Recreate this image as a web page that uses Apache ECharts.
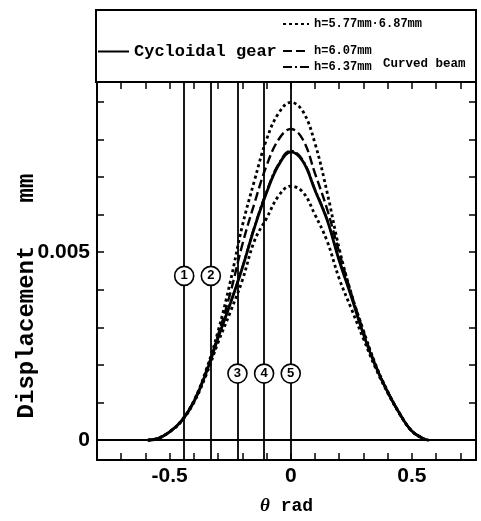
<!DOCTYPE html>
<html>
<head>
<meta charset="utf-8">
<script src="https://cdn.jsdelivr.net/npm/echarts@6/dist/echarts.min.js"></script>
<style>html,body{margin:0;padding:0;background:#fff;}#c{width:481px;height:521px;}</style>
</head>
<body>
<div id="c"></div>
<script>
// ---- data ----
var theta = [-0.59,-0.55,-0.50,-0.45,-0.40,-0.35,-0.30,-0.25,-0.20,-0.15,-0.10,-0.05,0,0.05,0.10,0.15,0.20,0.25,0.30,0.35,0.40,0.45,0.50,0.55,0.57];
var gear   = [0,0.00004,0.00022,0.00052,0.00102,0.00178,0.00272,0.00362,0.00458,0.00565,0.00658,0.00732,0.00767,0.00742,0.00665,0.00586,0.00478,0.00382,0.00282,0.00197,0.00128,0.00070,0.00024,0.00003,0];
var h577   = [0,0.00004,0.00022,0.00053,0.00105,0.00185,0.00290,0.00420,0.00570,0.00690,0.00800,0.00870,0.00899,0.00875,0.00790,0.00660,0.00510,0.00390,0.00292,0.00202,0.00130,0.00071,0.00024,0.00003,0];
var h607   = [0,0.00004,0.00022,0.00052,0.00104,0.00182,0.00280,0.00390,0.00520,0.00630,0.00730,0.00800,0.00828,0.00800,0.00710,0.00615,0.00500,0.00390,0.00290,0.00200,0.00129,0.00070,0.00024,0.00003,0];
var h637   = [0,0.00004,0.00022,0.00052,0.00102,0.00179,0.00273,0.00364,0.00460,0.00568,0.00662,0.00735,0.00770,0.00745,0.00668,0.00588,0.00480,0.00384,0.00283,0.00197,0.00128,0.00070,0.00024,0.00003,0];
var h687   = [0,0.00004,0.00022,0.00051,0.00100,0.00172,0.00260,0.00340,0.00425,0.00530,0.00590,0.00650,0.00676,0.00660,0.00600,0.00530,0.00430,0.00350,0.00270,0.00192,0.00126,0.00069,0.00024,0.00003,0];
var markerTheta  = [-0.44,-0.33,-0.22,-0.11,0];
var markerY      = [0.00437,0.00437,0.00177,0.00177,0.00177];
var markerLabels = ['1','2','3','4','5'];
var xTickLabels = ['-0.5','0','0.5'];
var yTickLabels = ['0','0.005'];

function pairs(xs, ys){ return xs.map(function(x,i){ return [x, ys[i]]; }); }

var mono = 'Liberation Mono';
var sans = 'Liberation Sans';

var chart = echarts.init(document.getElementById('c'), null, {renderer:'canvas'});
var axisLineStyle = {color:'#000', width:2};
var xCommon = {
  type:'value', min:-0.8, max:0.765, interval:0.1,
  axisLine:{show:true, onZero:false, lineStyle:axisLineStyle},
  axisTick:{show:true, inside:true, length:7, lineStyle:{color:'#000', width:1.5}},
  splitLine:{show:false}
};
var yCommon = {
  type:'value', min:-0.00053, max:0.00953, minInterval:0.001, maxInterval:0.001, splitNumber:10,
  axisLine:{show:true, onZero:false, lineStyle:axisLineStyle},
  axisTick:{show:true, inside:true, length:7, lineStyle:{color:'#000', width:1.5}},
  splitLine:{show:false}
};
var legendCommon = {padding:0, itemStyle:{opacity:0, borderWidth:0}, selectedMode:false};
function lg(extra){ return Object.assign({}, legendCommon, extra); }

var option = {
  animation:false,
  backgroundColor:'#fff',
  grid:{left:97, top:82, width:379, height:386, containLabel:false},
  xAxis:[
    Object.assign({}, xCommon, {
      position:'bottom',
      name:'{t|θ} rad', nameLocation:'middle', nameGap:37,
      nameTextStyle:{fontFamily:mono, fontWeight:'bold', fontSize:18, color:'#000',
        rich:{t:{fontFamily:'Liberation Serif', fontStyle:'italic', fontWeight:'bold', fontSize:19, color:'#000'}}},
      axisLabel:{show:true, margin:6, color:'#000', fontFamily:sans, fontWeight:'bold', fontSize:21,
        formatter:function(v){
          for (var i=0;i<xTickLabels.length;i++){ if (Math.abs(v - parseFloat(xTickLabels[i])) < 1e-6) return xTickLabels[i]; }
          return '';
        }}
    }),
    Object.assign({}, xCommon, {position:'top', axisLabel:{show:false}})
  ],
  yAxis:[
    Object.assign({}, yCommon, {
      position:'left',
      axisLabel:{show:true, margin:7, color:'#000', fontFamily:sans, fontWeight:'bold', fontSize:21,
        formatter:function(v){
          for (var i=0;i<yTickLabels.length;i++){ if (Math.abs(v - parseFloat(yTickLabels[i])) < 1e-9) return yTickLabels[i]; }
          return '';
        }}
    }),
    Object.assign({}, yCommon, {position:'right', axisLabel:{show:false}})
  ],
  legend:[
    lg({data:['Cycloidal gear'], left:97, top:43, itemWidth:31, itemHeight:16,
      textStyle:{fontFamily:mono, fontWeight:'bold', fontSize:17, color:'#000'}}),
    lg({data:['h=5.77mm·6.87mm'], left:282, top:18, itemWidth:26, itemHeight:14,
      textStyle:{fontFamily:mono, fontWeight:'bold', fontSize:12, color:'#000'}}),
    lg({data:['h=6.07mm'], left:282, top:45, itemWidth:26, itemHeight:14,
      textStyle:{fontFamily:mono, fontWeight:'bold', fontSize:12, color:'#000'}}),
    lg({data:['h=6.37mm'], left:282, top:61, itemWidth:26, itemHeight:14,
      textStyle:{fontFamily:mono, fontWeight:'bold', fontSize:12, color:'#000'}})
  ],
  graphic:[
    {type:'rect', shape:{x:96, y:10, width:380, height:72}, style:{fill:'none', stroke:'#000', lineWidth:2}, z:10},
    {type:'text', left:383, top:57, style:{text:'Curved beam', fontFamily:mono, fontWeight:'bold', fontSize:12.5, fill:'#000'}, z:10},
    {type:'text', x:27, y:296, rotation:Math.PI/2,
      style:{text:'Displacement   mm', fontFamily:mono, fontWeight:'bold', fontSize:24, fill:'#000', align:'center', verticalAlign:'middle'}, z:10}
  ],
  series:[
    {type:'line', name:'refs', data:[], silent:true, z:1,
      markLine:{silent:true, symbol:'none', label:{show:false},
        lineStyle:{color:'#000', width:1.8, type:'solid'},
        data: markerTheta.map(function(t){ return {xAxis:t}; }).concat([{yAxis:0}])}},
    {type:'line', name:'h=6.37mm', data:pairs(theta,h637), smooth:0.4, showSymbol:false, symbol:'none', z:3,
      lineStyle:{color:'#000', width:2.2, type:[9,3,2,3]}, itemStyle:{color:'#000'}},
    {type:'line', name:'h=5.77mm·6.87mm', data:pairs(theta,h577), smooth:0.4, showSymbol:false, symbol:'none', z:3,
      lineStyle:{color:'#000', width:2.8, type:[3,3]}, itemStyle:{color:'#000'}},
    {type:'line', name:'h=5.77mm·6.87mm', data:pairs(theta,h687), smooth:0.4, showSymbol:false, symbol:'none', z:3,
      lineStyle:{color:'#000', width:2.8, type:[3,3]}, itemStyle:{color:'#000'}},
    {type:'line', name:'h=6.07mm', data:pairs(theta,h607), smooth:0.4, showSymbol:false, symbol:'none', z:3,
      lineStyle:{color:'#000', width:2.4, type:[9,4]}, itemStyle:{color:'#000'}},
    {type:'line', name:'Cycloidal gear', data:pairs(theta,gear), smooth:0.4, showSymbol:false, symbol:'none', z:4,
      lineStyle:{color:'#000', width:2.8, type:'solid'}, itemStyle:{color:'#000'}},
    {type:'scatter', name:'markers', data:markerTheta.map(function(t,i){ return [t, markerY[i], markerLabels[i]]; }),
      symbol:'circle', symbolSize:19, z:6,
      itemStyle:{color:'#fff', borderColor:'#000', borderWidth:1.6, opacity:1},
      label:{show:true, position:'inside', color:'#000', fontFamily:sans, fontWeight:'bold', fontSize:13,
        formatter:function(p){ return p.data[2]; }}}
  ]
};
chart.setOption(option);
</script>
</body>
</html>
